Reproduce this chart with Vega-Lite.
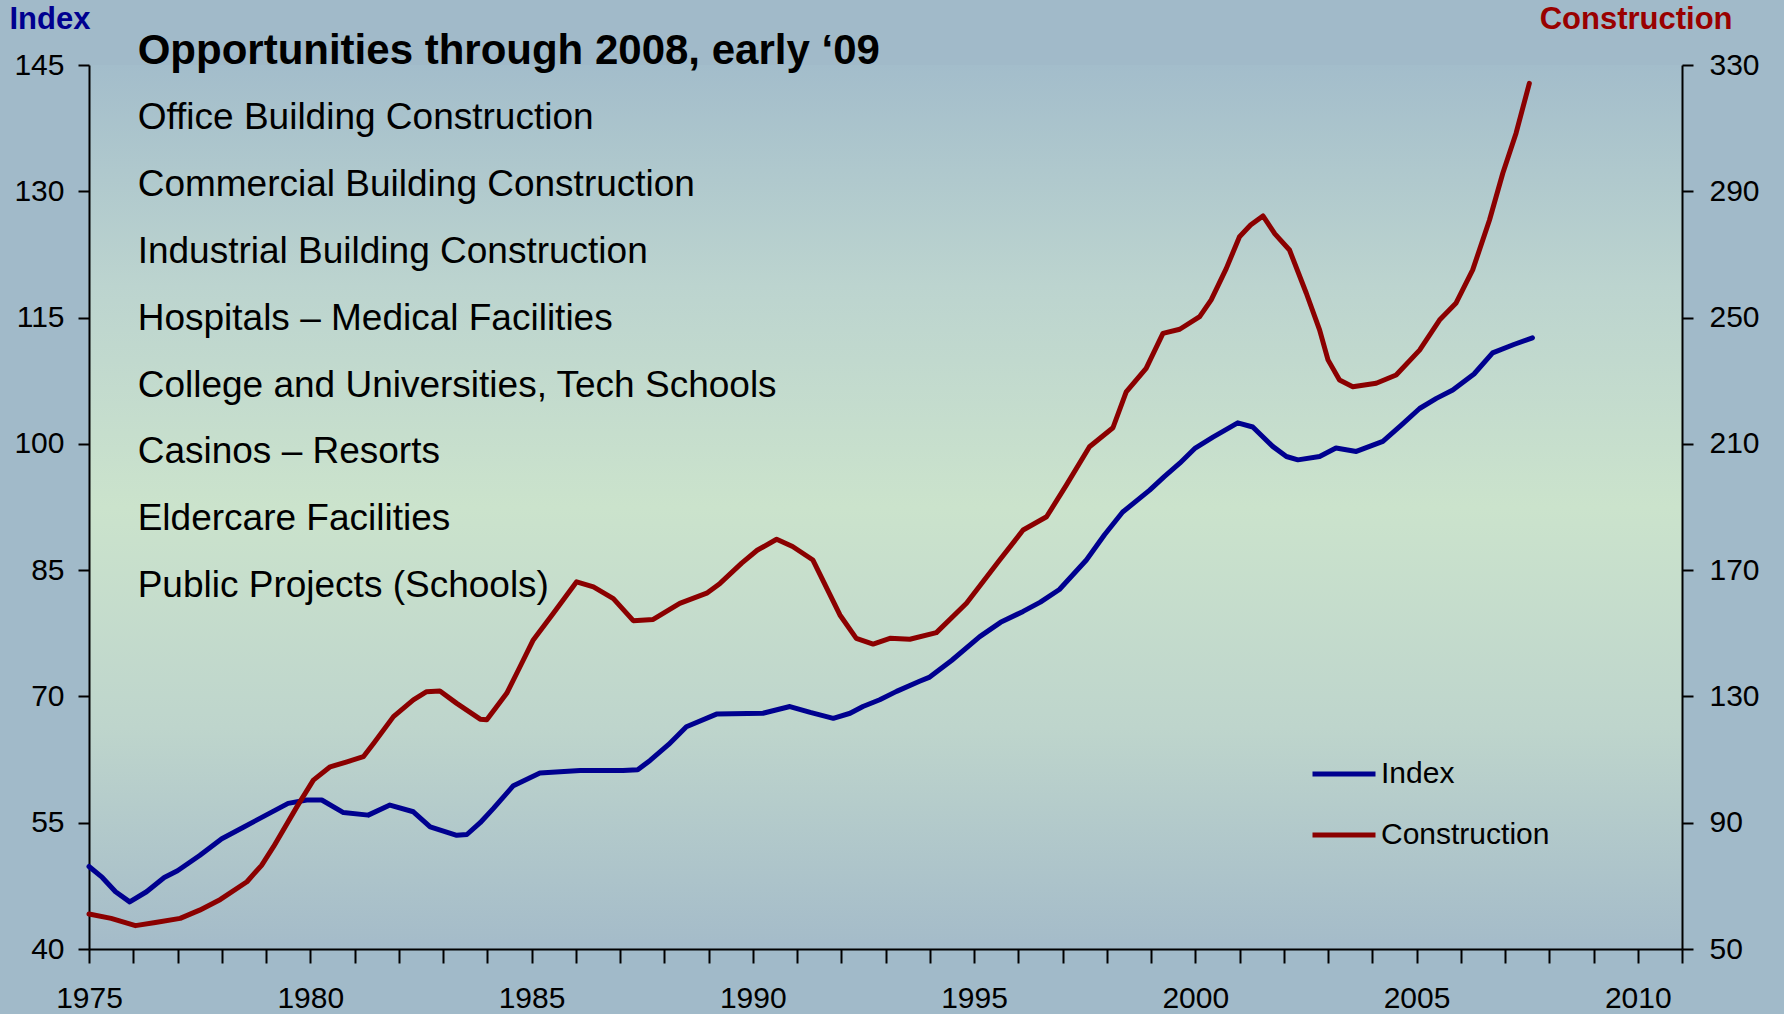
{
  "$schema": "https://vega.github.io/schema/vega-lite/v6.json",
  "width": 1593,
  "height": 884,
  "autosize": {"type": "none"},
  "padding": {"left": 89, "top": 65, "right": 102, "bottom": 65},
  "background": "#a1bac9",
  "config": {
    "font": "Liberation Sans",
    "view": {
      "stroke": null,
      "fill": {
        "gradient": "linear",
        "x1": 0, "y1": 0, "x2": 0, "y2": 1,
        "stops": [
          {"offset": 0, "color": "#a3bdcb"},
          {"offset": 0.25, "color": "#bcd4cf"},
          {"offset": 0.5, "color": "#cbe3cc"},
          {"offset": 0.75, "color": "#bed5cc"},
          {"offset": 1, "color": "#a4bbc9"}
        ]
      }
    },
    "axis": {
      "domainColor": "black",
      "domainWidth": 2,
      "tickColor": "black",
      "tickWidth": 2,
      "labelColor": "black",
      "labelFontSize": 30,
      "labelFont": "Liberation Sans",
      "grid": false,
      "labelFlush": false,
      "labelOverlap": false
    }
  },
  "datasets": {
    "index": [
      {"year": 1975.0, "value": 49.8}, {"year": 1975.3, "value": 48.5}, {"year": 1975.6, "value": 46.8},
      {"year": 1975.92, "value": 45.6}, {"year": 1976.3, "value": 46.8}, {"year": 1976.7, "value": 48.5},
      {"year": 1977.0, "value": 49.3}, {"year": 1977.5, "value": 51.1}, {"year": 1978.0, "value": 53.1},
      {"year": 1978.5, "value": 54.5}, {"year": 1979.0, "value": 55.9}, {"year": 1979.5, "value": 57.3},
      {"year": 1979.92, "value": 57.7}, {"year": 1980.26, "value": 57.7}, {"year": 1980.75, "value": 56.2},
      {"year": 1981.31, "value": 55.9}, {"year": 1981.8, "value": 57.1}, {"year": 1982.33, "value": 56.3},
      {"year": 1982.71, "value": 54.5}, {"year": 1983.31, "value": 53.5}, {"year": 1983.54, "value": 53.6},
      {"year": 1983.84, "value": 55.0}, {"year": 1984.14, "value": 56.7}, {"year": 1984.59, "value": 59.4},
      {"year": 1985.19, "value": 60.9}, {"year": 1986.1, "value": 61.2}, {"year": 1987.07, "value": 61.2},
      {"year": 1987.4, "value": 61.3}, {"year": 1987.68, "value": 62.4}, {"year": 1988.1, "value": 64.3},
      {"year": 1988.5, "value": 66.4}, {"year": 1989.18, "value": 67.9}, {"year": 1990.23, "value": 68.0},
      {"year": 1990.84, "value": 68.8}, {"year": 1991.3, "value": 68.1}, {"year": 1991.82, "value": 67.4},
      {"year": 1992.2, "value": 68.0}, {"year": 1992.49, "value": 68.8}, {"year": 1992.87, "value": 69.6},
      {"year": 1993.25, "value": 70.6}, {"year": 1993.77, "value": 71.8}, {"year": 1994.0, "value": 72.3},
      {"year": 1994.5, "value": 74.3}, {"year": 1995.13, "value": 77.1}, {"year": 1995.6, "value": 78.8},
      {"year": 1996.11, "value": 80.1}, {"year": 1996.5, "value": 81.2}, {"year": 1996.93, "value": 82.7},
      {"year": 1997.54, "value": 86.2}, {"year": 1997.95, "value": 89.2}, {"year": 1998.36, "value": 91.9},
      {"year": 1998.97, "value": 94.5}, {"year": 1999.3, "value": 96.1}, {"year": 1999.65, "value": 97.7},
      {"year": 2000.0, "value": 99.5}, {"year": 2000.4, "value": 100.8}, {"year": 2000.96, "value": 102.5},
      {"year": 2001.3, "value": 102.0}, {"year": 2001.75, "value": 99.7}, {"year": 2002.06, "value": 98.5},
      {"year": 2002.32, "value": 98.1}, {"year": 2002.81, "value": 98.5}, {"year": 2003.18, "value": 99.5},
      {"year": 2003.64, "value": 99.1}, {"year": 2004.24, "value": 100.3}, {"year": 2004.65, "value": 102.2},
      {"year": 2005.07, "value": 104.2}, {"year": 2005.45, "value": 105.4}, {"year": 2005.82, "value": 106.4},
      {"year": 2006.3, "value": 108.3}, {"year": 2006.72, "value": 110.8}, {"year": 2007.2, "value": 111.8},
      {"year": 2007.62, "value": 112.6}
    ],
    "construction": [
      {"year": 1975.0, "value": 61.1}, {"year": 1975.5, "value": 59.7}, {"year": 1976.05, "value": 57.4},
      {"year": 1976.5, "value": 58.4}, {"year": 1977.06, "value": 59.7}, {"year": 1977.5, "value": 62.3},
      {"year": 1977.97, "value": 65.7}, {"year": 1978.57, "value": 71.3}, {"year": 1978.9, "value": 76.5},
      {"year": 1979.17, "value": 82.4}, {"year": 1979.7, "value": 95.1}, {"year": 1980.07, "value": 103.5},
      {"year": 1980.45, "value": 107.7}, {"year": 1980.83, "value": 109.3}, {"year": 1981.2, "value": 110.9},
      {"year": 1981.43, "value": 115.1}, {"year": 1981.88, "value": 123.6}, {"year": 1982.33, "value": 128.9},
      {"year": 1982.63, "value": 131.5}, {"year": 1982.93, "value": 131.7}, {"year": 1983.31, "value": 127.8},
      {"year": 1983.84, "value": 122.8}, {"year": 1983.99, "value": 122.6}, {"year": 1984.44, "value": 131.0},
      {"year": 1984.74, "value": 139.4}, {"year": 1985.04, "value": 147.9}, {"year": 1985.49, "value": 156.3},
      {"year": 1986.02, "value": 166.3}, {"year": 1986.4, "value": 164.7}, {"year": 1986.85, "value": 161.0},
      {"year": 1987.3, "value": 154.0}, {"year": 1987.75, "value": 154.4}, {"year": 1988.35, "value": 159.5},
      {"year": 1988.96, "value": 162.7}, {"year": 1989.26, "value": 165.8}, {"year": 1989.75, "value": 172.2},
      {"year": 1990.1, "value": 176.3}, {"year": 1990.54, "value": 179.8}, {"year": 1990.9, "value": 177.5},
      {"year": 1991.36, "value": 173.2}, {"year": 1991.97, "value": 155.8}, {"year": 1992.34, "value": 148.4},
      {"year": 1992.72, "value": 146.6}, {"year": 1993.1, "value": 148.4}, {"year": 1993.55, "value": 148.1},
      {"year": 1994.15, "value": 150.2}, {"year": 1994.83, "value": 159.5}, {"year": 1995.58, "value": 173.2},
      {"year": 1996.11, "value": 182.7}, {"year": 1996.64, "value": 186.9}, {"year": 1997.09, "value": 197.0},
      {"year": 1997.61, "value": 209.1}, {"year": 1998.14, "value": 215.1}, {"year": 1998.44, "value": 226.5},
      {"year": 1998.89, "value": 233.9}, {"year": 1999.27, "value": 245.0}, {"year": 1999.65, "value": 246.3},
      {"year": 2000.1, "value": 250.3}, {"year": 2000.36, "value": 255.6}, {"year": 2000.7, "value": 265.5},
      {"year": 2001.0, "value": 275.6}, {"year": 2001.25, "value": 279.3}, {"year": 2001.53, "value": 282.2},
      {"year": 2001.8, "value": 276.5}, {"year": 2002.13, "value": 271.4}, {"year": 2002.51, "value": 257.7},
      {"year": 2002.81, "value": 246.1}, {"year": 2003.0, "value": 236.6}, {"year": 2003.26, "value": 230.2},
      {"year": 2003.56, "value": 228.1}, {"year": 2004.09, "value": 229.2}, {"year": 2004.54, "value": 231.8},
      {"year": 2005.07, "value": 239.7}, {"year": 2005.52, "value": 249.2}, {"year": 2005.89, "value": 254.5},
      {"year": 2006.27, "value": 265.1}, {"year": 2006.65, "value": 280.9}, {"year": 2006.95, "value": 295.7},
      {"year": 2007.25, "value": 308.4}, {"year": 2007.55, "value": 324.2}
    ],
    "notes": [
      {"line": 0, "text": "Opportunities through 2008, early ‘09"},
      {"line": 1, "text": "Office Building Construction"},
      {"line": 2, "text": "Commercial Building Construction"},
      {"line": 3, "text": "Industrial Building Construction"},
      {"line": 4, "text": "Hospitals – Medical Facilities"},
      {"line": 5, "text": "College and Universities, Tech Schools"},
      {"line": 6, "text": "Casinos – Resorts"},
      {"line": 7, "text": "Eldercare Facilities"},
      {"line": 8, "text": "Public Projects (Schools)"}
    ]
  },
  "encoding": {
    "x": {
      "type": "quantitative",
      "scale": {"domain": [1975, 2011], "nice": false, "zero": false},
      "axis": {
        "title": null,
        "values": [1975,1976,1977,1978,1979,1980,1981,1982,1983,1984,1985,1986,1987,1988,1989,1990,1991,1992,1993,1994,1995,1996,1997,1998,1999,2000,2001,2002,2003,2004,2005,2006,2007,2008,2009,2010,2011],
        "labelExpr": "datum.value % 5 === 0 ? format(datum.value, 'd') : ''",
        "tickSize": 14,
        "labelPadding": 20
      }
    }
  },
  "layer": [
    {
      "data": {"name": "index"},
      "mark": {"type": "line", "strokeWidth": 5, "strokeCap": "round", "strokeJoin": "round"},
      "encoding": {
        "x": {"field": "year", "type": "quantitative"},
        "y": {
          "field": "value", "type": "quantitative",
          "scale": {"domain": [40, 145], "nice": false, "zero": false},
          "axis": {
            "orient": "left",
            "values": [40, 55, 70, 85, 100, 115, 130, 145],
            "tickSize": 11,
            "labelPadding": 14,
            "title": "Index",
            "titleAngle": 0,
            "titleFontSize": 31,
            "titleFontWeight": "bold",
            "titleColor": "#000090",
            "titleX": -80,
            "titleY": -46,
            "titleAlign": "left",
            "titleBaseline": "middle"
          }
        },
        "color": {
          "datum": "Index",
          "type": "nominal",
          "scale": {"domain": ["Index", "Construction"], "range": ["#00008f", "#8b0000"]},
          "legend": {
            "title": null,
            "orient": "none",
            "legendX": 1221,
            "legendY": 675,
            "symbolType": "stroke",
            "symbolSize": 3969,
            "symbolStrokeWidth": 5,
            "labelFontSize": 30,
            "labelColor": "black",
            "labelOffset": 3,
            "labelLimit": 400,
            "rowPadding": 12,
            "padding": 0
          }
        }
      }
    },
    {
      "data": {"name": "construction"},
      "mark": {"type": "line", "strokeWidth": 5, "strokeCap": "round", "strokeJoin": "round"},
      "encoding": {
        "x": {"field": "year", "type": "quantitative"},
        "y": {
          "field": "value", "type": "quantitative",
          "scale": {"domain": [50, 330], "nice": false, "zero": false},
          "axis": {
            "orient": "right",
            "values": [50, 90, 130, 170, 210, 250, 290, 330],
            "tickSize": 11,
            "labelPadding": 16,
            "title": "Construction",
            "titleAngle": 0,
            "titleFontSize": 31,
            "titleFontWeight": "bold",
            "titleColor": "#990000",
            "titleX": 50,
            "titleY": -46,
            "titleAlign": "right",
            "titleBaseline": "middle"
          }
        },
        "color": {"datum": "Construction", "type": "nominal"}
      }
    },
    {
      "data": {"name": "notes"},
      "encoding": {
        "x": {"datum": 1976.1, "type": "quantitative"},
        "y": {
          "field": "line", "type": "quantitative",
          "scale": {"domain": [0.208, 13.422], "reverse": true, "nice": false, "zero": false},
          "axis": null
        },
        "text": {"field": "text"}
      },
      "layer": [
        {
          "transform": [{"filter": "datum.line === 0"}],
          "mark": {"type": "text", "align": "left", "baseline": "middle", "fontSize": 42, "fontWeight": "bold", "color": "black", "font": "Liberation Sans"}
        },
        {
          "transform": [{"filter": "datum.line > 0"}],
          "mark": {"type": "text", "align": "left", "baseline": "middle", "fontSize": 37, "color": "black", "font": "Liberation Sans"}
        }
      ]
    }
  ],
  "resolve": {"scale": {"y": "independent"}}
}
